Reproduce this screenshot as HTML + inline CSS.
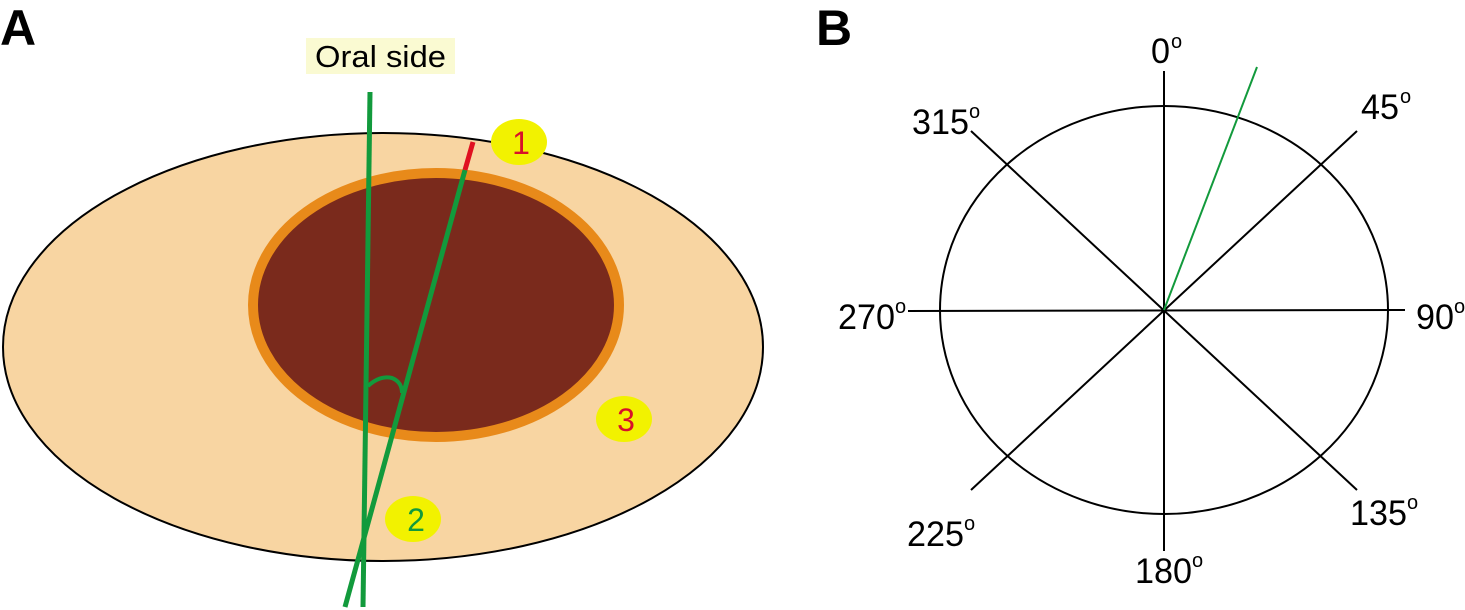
<!DOCTYPE html>
<html><head><meta charset="utf-8"><style>
body{margin:0;background:#fff}
svg{display:block}
text{font-family:"Liberation Sans",Arial,sans-serif}
</style></head><body>
<svg width="1465" height="610" viewBox="0 0 1465 610" xmlns="http://www.w3.org/2000/svg">
<text x="0" y="45" font-size="50" font-weight="bold">A</text>
<text x="816" y="45" font-size="50" font-weight="bold">B</text>
<rect x="306" y="38" width="149" height="36" fill="#fafad2"/>
<text x="315" y="67" font-size="31" textLength="131" lengthAdjust="spacingAndGlyphs">Oral side</text>
<ellipse cx="383" cy="347" rx="380" ry="214" fill="#f8d5a2" stroke="#000" stroke-width="2"/>
<ellipse cx="436" cy="305" rx="183" ry="132" fill="#7a2a1c" stroke="#e88a1a" stroke-width="10"/>
<line x1="370" y1="92" x2="363" y2="607" stroke="#129a3c" stroke-width="5"/>
<line x1="465" y1="170" x2="345" y2="607" stroke="#129a3c" stroke-width="5"/>
<line x1="473" y1="142" x2="465" y2="170" stroke="#e01020" stroke-width="5"/>
<path d="M368 386 Q380 375 392 378 Q402 382 402 393" fill="none" stroke="#129a3c" stroke-width="4"/>
<ellipse cx="519" cy="142" rx="28" ry="23" fill="#f2f200"/>
<text x="521" y="154" font-size="32" fill="#d8102a" text-anchor="middle">1</text>
<ellipse cx="413" cy="519" rx="28" ry="23" fill="#f2f200"/>
<text x="416" y="531" font-size="32" fill="#129a3c" text-anchor="middle">2</text>
<ellipse cx="624" cy="419" rx="28" ry="23" fill="#f2f200"/>
<text x="626" y="431" font-size="32" fill="#d8102a" text-anchor="middle">3</text>
<g stroke="#000" stroke-width="2" fill="none">
<ellipse cx="1164" cy="310" rx="224" ry="204"/>
<line x1="1164" y1="71" x2="1164" y2="551"/>
<line x1="908" y1="311" x2="1405" y2="310"/>
<line x1="971" y1="131" x2="1357" y2="490"/>
<line x1="1357" y1="131" x2="971" y2="490"/>
</g>
<line x1="1164" y1="310" x2="1257" y2="67" stroke="#129a3c" stroke-width="2"/>
<g font-size="35">
<text x="1151" y="63" textLength="19" lengthAdjust="spacingAndGlyphs">0</text><text x="1171" y="48" font-size="20">o</text>
<text x="912" y="134" textLength="57" lengthAdjust="spacingAndGlyphs">315</text><text x="969" y="118" font-size="20">o</text>
<text x="1361" y="119" textLength="38" lengthAdjust="spacingAndGlyphs">45</text><text x="1400" y="103" font-size="20">o</text>
<text x="838" y="329" textLength="57" lengthAdjust="spacingAndGlyphs">270</text><text x="895" y="313" font-size="20">o</text>
<text x="1416" y="329" textLength="38" lengthAdjust="spacingAndGlyphs">90</text><text x="1454" y="313" font-size="20">o</text>
<text x="907" y="546" textLength="57" lengthAdjust="spacingAndGlyphs">225</text><text x="964" y="530" font-size="20">o</text>
<text x="1350" y="525" textLength="57" lengthAdjust="spacingAndGlyphs">135</text><text x="1407" y="509" font-size="20">o</text>
<text x="1135" y="583" textLength="57" lengthAdjust="spacingAndGlyphs">180</text><text x="1192" y="567" font-size="20">o</text>
</g>
</svg>
</body></html>
